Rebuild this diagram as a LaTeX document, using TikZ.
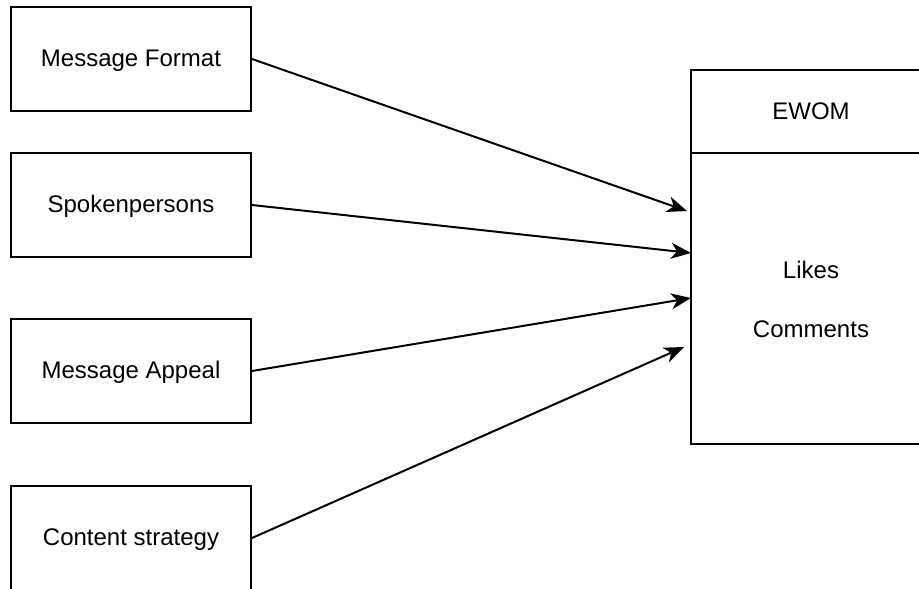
\documentclass[tikz,border=0pt]{standalone}
\usepackage{fontspec}
\setmainfont{Liberation Sans}
\usetikzlibrary{arrows.meta}
\begin{document}
\begin{tikzpicture}[x=1pt,y=-1pt,
  txt/.style={inner sep=0pt, text height=16pt, text depth=1pt, font=\fontsize{24}{29}\selectfont},
  box/.style={txt, draw, line width=2pt, minimum width=240pt, minimum height=104pt},
  link/.style={line width=2pt, -{Stealth[length=20pt,width=16pt,inset=6pt]}}]
\useasboundingbox (0,0) rectangle (919,589);
\clip (0,0) rectangle (919,589);
\node[box] (mf) at (131,59) {Message Format};
\node[box] (sp) at (131,205) {Spokenpersons};
\node[box] (ma) at (131,371) {Message Appeal};
\node[box] (cs) at (131,538) {Content strategy};
\node[box, minimum height=83pt] (ewom) at (811,111.5) {EWOM};
\node[box, minimum height=291pt] (body) at (811,298.5) {};
\node[txt] (likes) at (811,270.5) {Likes};
\node[txt] (comments) at (811,329.5) {Comments};
\coordinate (t1) at (687,211);
\coordinate (t2) at (691,253);
\coordinate (t3) at (691,298);
\coordinate (t4) at (684,347);
\draw[link] (mf.east) -- (t1);
\draw[link] (sp.east) -- (t2);
\draw[link] (ma.east) -- (t3);
\draw[link] (cs.east) -- (t4);
\end{tikzpicture}
\end{document}
